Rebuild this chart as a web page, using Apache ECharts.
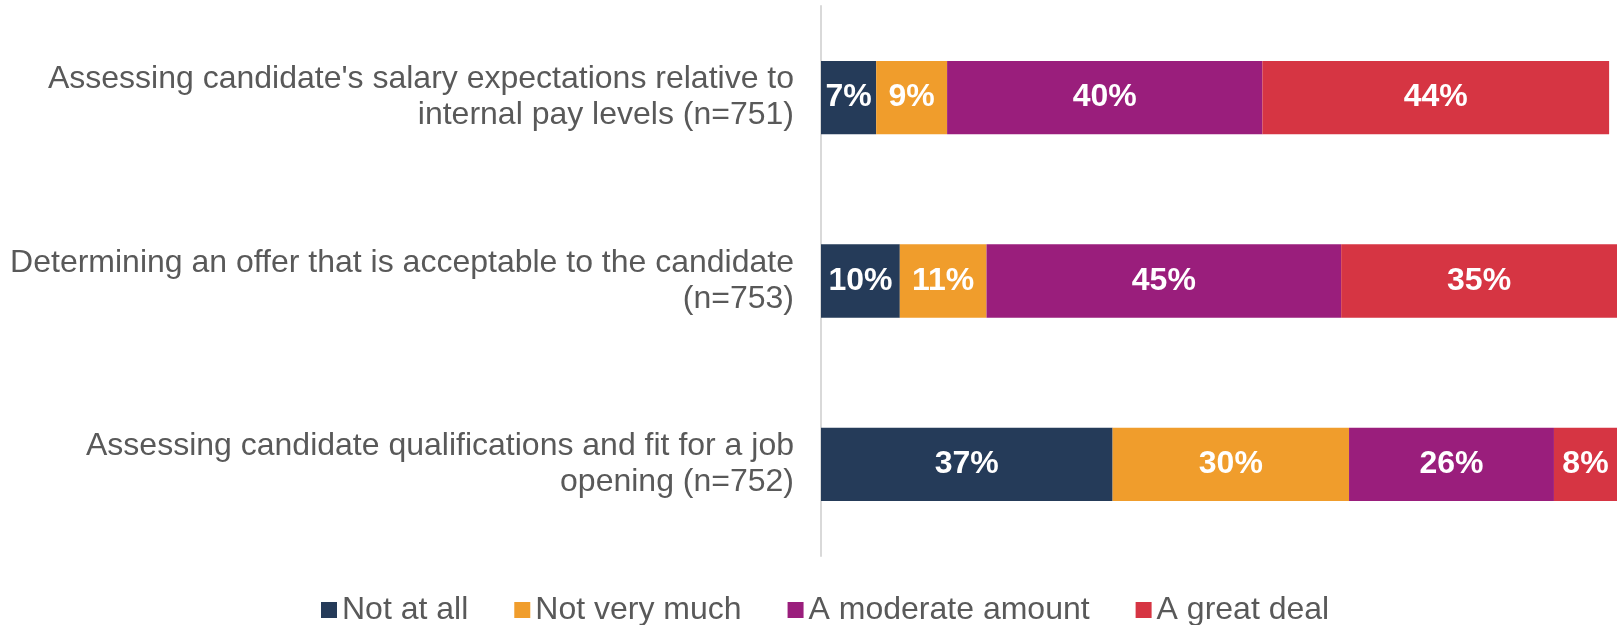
<!DOCTYPE html>
<html>
<head>
<meta charset="utf-8">
<script src="https://cdn.jsdelivr.net/npm/echarts@6/dist/echarts.min.js"></script>
<style>
  html, body { margin: 0; padding: 0; background: #ffffff; }
  #chart { width: 1617px; height: 625px; }
</style>
</head>
<body>
<div id="chart"></div>
<script>
// Survey items (top to bottom)
const categories = [
  "Assessing candidate's salary expectations relative to\ninternal pay levels (n=751)",
  "Determining an offer that is acceptable to the candidate\n(n=753)",
  "Assessing candidate qualifications and fit for a job\nopening (n=752)"
];

// Response shares (%), one array per answer option
const notAtAll      = [7, 10, 37];
const notVeryMuch   = [9, 11, 30];
const moderate      = [40, 45, 26];
const greatDeal     = [44, 35, 8];

const seriesNames = ["Not at all", "Not very much", "A moderate amount", "A great deal"];
const seriesColors = ["#253B59", "#F09D2C", "#9A1E7C", "#D63543"];
const seriesData = [notAtAll, notVeryMuch, moderate, greatDeal];

const FONT = "'Liberation Sans', Arial, sans-serif";

const chart = echarts.init(document.getElementById('chart'), null, { renderer: 'canvas' });

chart.setOption({
  animation: false,
  backgroundColor: '#ffffff',
  grid: { left: 821, top: 6, width: 803, height: 550, containLabel: false },
  legend: {
    left: 316,
    top: 589,
    icon: 'rect',
    itemWidth: 16,
    itemHeight: 16,
    itemGap: 46,
    textStyle: { fontFamily: FONT, fontSize: 32, color: '#595959' },
    data: seriesNames
  },
  xAxis: {
    type: 'value',
    min: 0,
    max: 101,
    show: false
  },
  yAxis: {
    type: 'category',
    inverse: true,
    data: categories,
    axisLine: { show: true, lineStyle: { color: '#D9D9D9', width: 2 } },
    axisTick: { show: false },
    axisLabel: {
      margin: 27,
      fontFamily: FONT,
      fontSize: 32,
      lineHeight: 36,
      color: '#595959',
      align: 'right'
    }
  },
  series: seriesNames.map((name, i) => ({
    name: name,
    type: 'bar',
    stack: 'total',
    barWidth: '40%',
    data: seriesData[i],
    itemStyle: { color: seriesColors[i] },
    label: {
      show: true,
      position: 'inside',
      formatter: '{c}%',
      color: '#ffffff',
      fontFamily: FONT,
      fontWeight: 'bold',
      fontSize: 32
    }
  }))
});
</script>
</body>
</html>
